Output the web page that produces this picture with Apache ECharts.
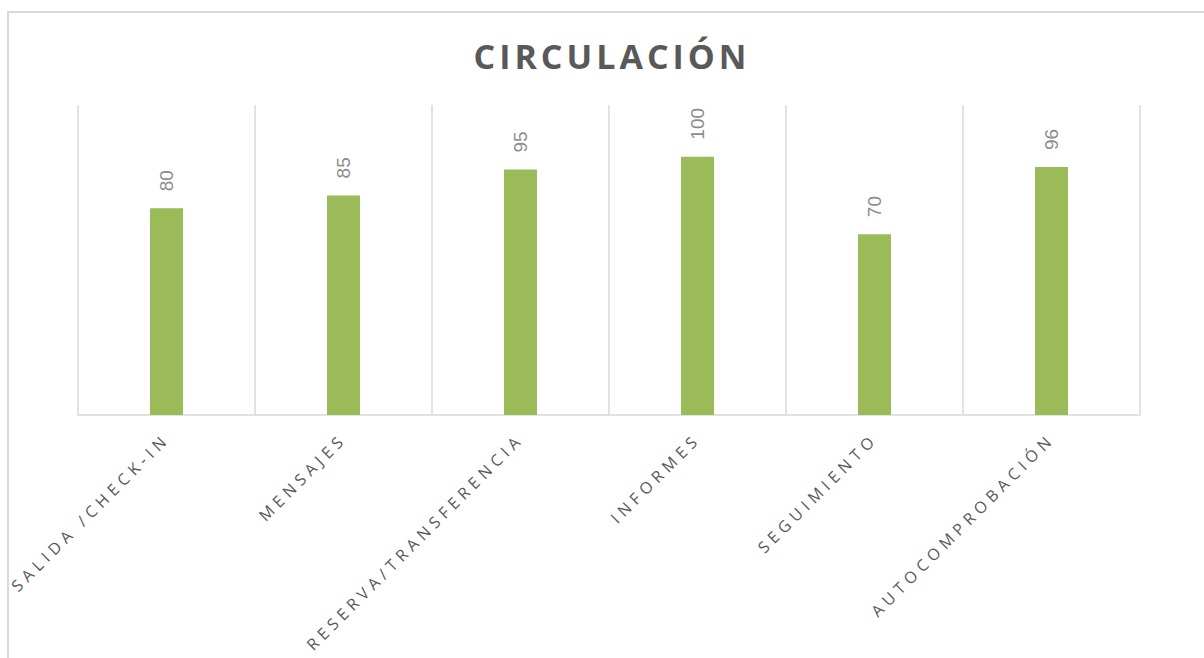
<!DOCTYPE html>
<html>
<head>
<meta charset="utf-8">
<script src="https://cdn.jsdelivr.net/npm/echarts@6/dist/echarts.min.js"></script>
<style>
html,body{margin:0;padding:0;background:#fff;}
#chart{width:1204px;height:658px;}
</style>
</head>
<body>
<div id="chart"></div>
<script>
const titleText = 'CIRCULACIÓN';
const categories = ['SALIDA /CHECK-IN', 'MENSAJES', 'RESERVA/TRANSFERENCIA', 'INFORMES', 'SEGUIMIENTO', 'AUTOCOMPROBACIÓN'];
const values = [80, 85, 95, 100, 70, 96];

const chart = echarts.init(document.getElementById('chart'), null, {renderer: 'svg'});
chart.setOption({
  animation: false,
  backgroundColor: '#ffffff',
  title: {
    text: titleText,
    left: 607,
    textAlign: 'center',
    top: 34,
    textStyle: {fontFamily: 'Open Sans', fontWeight: 'bold', fontSize: 34, color: '#595959'}
  },
  graphic: [{
    type: 'rect',
    shape: {x: 8, y: 12, width: 1300, height: 800},
    style: {fill: 'none', stroke: '#d9d9d9', lineWidth: 2},
    silent: true
  }],
  grid: {left: 78, right: 64, top: 105, bottom: 243, containLabel: false},
  xAxis: {
    type: 'category',
    data: categories,
    boundaryGap: true,
    axisLine: {show: true, lineStyle: {color: '#d9d9d9', width: 1.5}},
    axisTick: {show: false},
    splitLine: {show: true, interval: 0, lineStyle: {color: '#d9d9d9', width: 1.5}},
    axisLabel: {
      interval: 0, rotate: 45, margin: 21,
      fontFamily: 'Open Sans', fontSize: 16, color: '#595959'
    }
  },
  yAxis: {
    type: 'value', min: 0, max: 120, interval: 20,
    show: false,
    splitLine: {show: false}
  },
  series: [{
    type: 'bar',
    data: values,
    barWidth: 33,
    itemStyle: {color: '#9bbb59'},
    label: {
      show: true, position: 'top', distance: 17, rotate: 90,
      align: 'left', verticalAlign: 'middle',
      fontFamily: 'Liberation Sans', fontSize: 19, color: '#8c8c8c'
    }
  }]
});

function applySpacing() {
  document.querySelectorAll('#chart text').forEach(function (t) {
    const s = t.textContent;
    if (s === titleText) t.style.letterSpacing = '4px';
    else if (categories.indexOf(s) >= 0) t.style.letterSpacing = '5px';
  });
}
applySpacing();
chart.on('rendered', applySpacing);
chart.on('finished', applySpacing);
setTimeout(applySpacing, 0);
requestAnimationFrame(applySpacing);
</script>
</body>
</html>
